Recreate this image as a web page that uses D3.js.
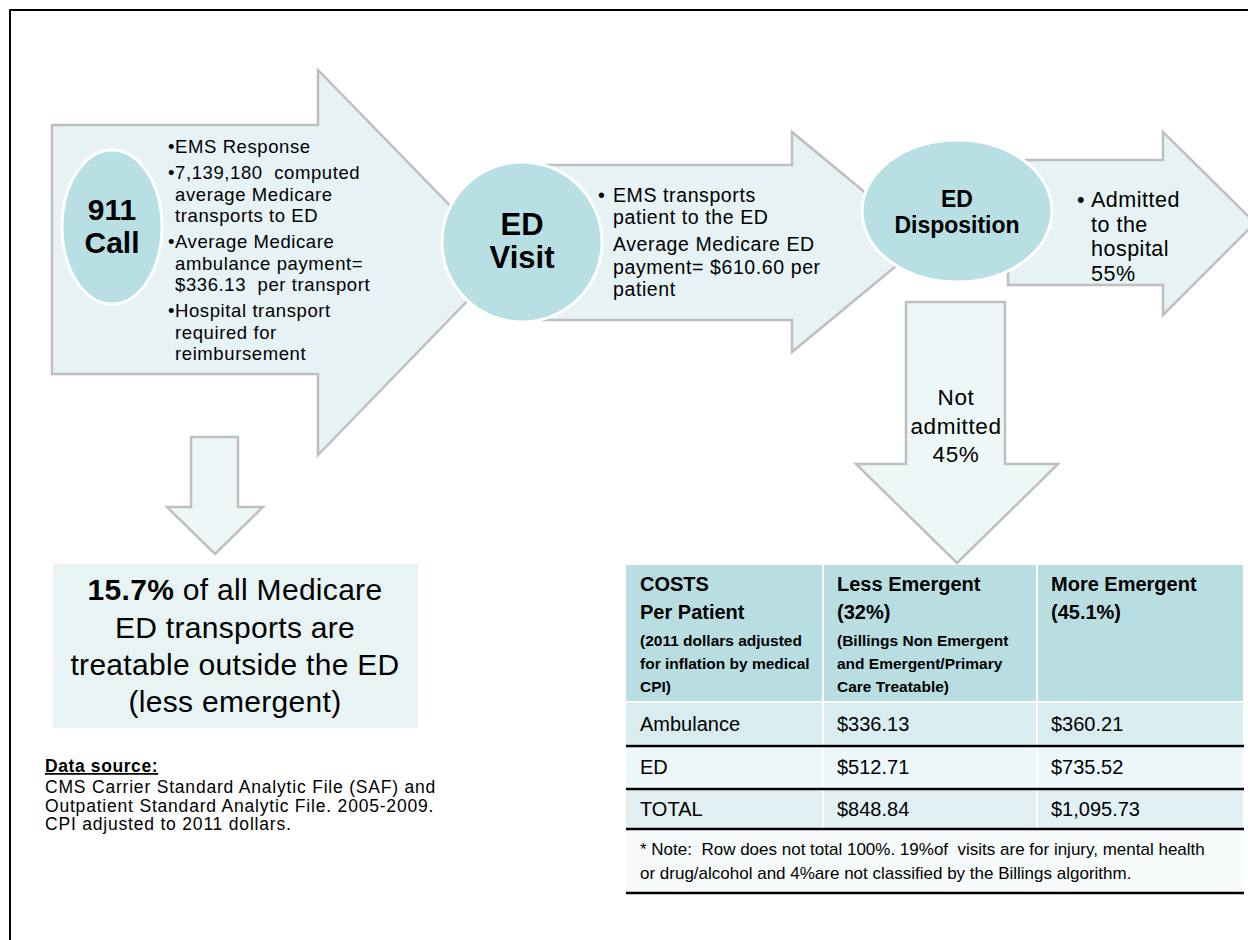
<!DOCTYPE html>
<html lang="en">
<head>
<meta charset="UTF-8">
<title>Medicare ED transport flow</title>
<script src="https://d3js.org/d3.v7.min.js"></script>
<style>
  body{margin:0;background:#fff;}
  svg text{font-family:"Liberation Sans",Arial,sans-serif;fill:#000;white-space:pre;}
  .narrow{font-family:"Liberation Sans Narrow","Arial Narrow","Liberation Sans",sans-serif !important;}
  .arrow{fill:#e6f2f4;stroke:#bfbfbf;stroke-width:2.5;}
  .arrow.down{fill:#eef7f7;}
  .node{fill:#b8dfe3;stroke:#fff;stroke-width:3;}
</style>
</head>
<body>
<svg id="chart" width="1248" height="940"></svg>
<script>
// ---- data ----
const nodeLabels = [["911","Call"],["ED","Visit"],["ED","Disposition"]];
const callBullets = [
  ["EMS Response"],
  ["7,139,180  computed","average Medicare","transports to ED"],
  ["Average Medicare","ambulance payment=","$336.13  per transport"],
  ["Hospital transport","required for","reimbursement"]
];
const visitBullets = [["EMS transports","patient to the ED"]];
const visitPlain = ["Average Medicare ED","payment= $610.60 per","patient"];
const admittedText = ["Admitted","to the","hospital","55%"];
const notAdmittedText = ["Not","admitted","45%"];
const summaryBold = "15.7%";
const summaryLines = [" of all Medicare","ED transports are","treatable outside the ED","(less emergent)"];
const sourceTitle = "Data source:";
const sourceLines = ["CMS Carrier Standard Analytic File (SAF) and","Outpatient Standard Analytic File. 2005-2009.","CPI adjusted to 2011 dollars."];

const headTitles = [["COSTS","Per Patient"],["Less Emergent","(32%)"],["More Emergent","(45.1%)"]];
const headNotes = [["(2011 dollars adjusted","for inflation by medical","CPI)"],["(Billings Non Emergent","and Emergent/Primary","Care Treatable)"],[]];
const rowLabels = ["Ambulance","ED","TOTAL"];
const lessEmergent = [336.13,512.71,848.84];
const moreEmergent = [360.21,735.52,1095.73];
const noteLines = ["* Note:  Row does not total 100%. 19%of  visits are for injury, mental health","or drug/alcohol and 4%are not classified by the Billings algorithm."];

// ---- setup ----
const svg = d3.select("#chart");
svg.append("rect").attr("x",10).attr("y",10).attr("width",1400).attr("height",1000)
  .attr("fill","none").attr("stroke","#000").attr("stroke-width",2);

const line = d3.line();
function arrow(pts, cls){
  svg.append("path").attr("class","arrow "+(cls||"")).attr("d",line(pts)+"Z");
}

// right-pointing arrows
arrow([[52,125],[318,125],[318,70],[505,262],[318,455],[318,374],[52,374]]);
arrow([[530,165],[792,165],[792,132],[925,242],[792,352],[792,320],[530,320]]);
arrow([[1008,160],[1163,160],[1163,132],[1255,223],[1163,315],[1163,285],[1008,285]]);
// down arrows
arrow([[191,437],[238,437],[238,507],[263,507],[215,554],[167,507],[191,507]],"down");
arrow([[906,302],[1005,302],[1005,464],[1058,464],[957,563],[856,464],[906,464]],"down");

// nodes
const nodePos = [{cx:112,cy:227,rx:50,ry:77,fs:30,base:[220,253]},
                 {cx:522,cy:242,rx:80,ry:80,fs:31,base:[235,268]},
                 {cx:957,cy:211,rx:95,ry:71,fs:23,base:[207,233]}];
const nodes = svg.selectAll(".nodeg").data(nodeLabels).enter().append("g");
nodes.append("ellipse").attr("class","node")
  .attr("cx",(d,i)=>nodePos[i].cx).attr("cy",(d,i)=>nodePos[i].cy)
  .attr("rx",(d,i)=>nodePos[i].rx).attr("ry",(d,i)=>nodePos[i].ry);
nodes.each(function(d,i){
  d3.select(this).selectAll("text").data(d).enter().append("text")
    .attr("x",nodePos[i].cx).attr("y",(t,j)=>nodePos[i].base[j])
    .attr("text-anchor","middle").attr("font-weight","bold")
    .attr("font-size",nodePos[i].fs).text(t=>t);
});

// bullet blocks
function bullets(groups, x, bx, y0, step, gap, fs, ls){
  let y = y0;
  groups.forEach(g=>{
    svg.append("text").attr("x",bx).attr("y",y).attr("font-size",fs).text("\u2022");
    g.forEach(t=>{
      svg.append("text").attr("x",x).attr("y",y).attr("font-size",fs)
        .attr("letter-spacing",ls).attr("fill","#111").text(t);
      y += step;
    });
    y += gap;
  });
  return y;
}
bullets(callBullets,175,168,153,21.5,4.5,18.5,0.6);
bullets(visitBullets,613,598,202,22,5,19.5,0.6);
visitPlain.forEach((t,i)=>svg.append("text").attr("x",613).attr("y",251+i*22.5)
  .attr("font-size",19.5).attr("letter-spacing",0.6).text(t));
bullets([admittedText],1091,1077,207,24.5,0,21.5,0.5);

svg.selectAll(".notadm").data(notAdmittedText).enter().append("text")
  .attr("x",956).attr("y",(d,i)=>405+i*28.5).attr("text-anchor","middle")
  .attr("font-size",22.5).attr("letter-spacing",0.6).text(d=>d);

// summary box
svg.append("rect").attr("x",53).attr("y",564).attr("width",365).attr("height",164).attr("fill","#e8f4f4");
const sum = svg.append("g").attr("font-size",30).attr("letter-spacing",0.3);
const first = sum.append("text").attr("x",235).attr("y",600).attr("text-anchor","middle");
first.append("tspan").attr("font-weight","bold").text(summaryBold);
first.append("tspan").text(summaryLines[0]);
summaryLines.slice(1).forEach((t,i)=>sum.append("text").attr("x",235).attr("y",638+i*37)
  .attr("text-anchor","middle").text(t));

// data source
svg.append("text").attr("x",45).attr("y",772).attr("font-size",17.5).attr("font-weight","bold")
  .attr("letter-spacing",0.6).attr("text-decoration","underline").text(sourceTitle);
sourceLines.forEach((t,i)=>svg.append("text").attr("x",45).attr("y",793+i*18.7)
  .attr("font-size",17.5).attr("letter-spacing",0.8).text(t));

// ---- table ----
const colX = d3.scaleOrdinal().domain([0,1,2]).range([626,823,1037]);
const colW = d3.scaleOrdinal().domain([0,1,2]).range([197,214,207]);
const rowY = d3.scaleBand().domain(rowLabels).range([703,829]).paddingInner(0.03);
const fmt = d3.format("$,.2f");
const rowFill = ["#d9edf0","#eef7f9","#e2f0f3"];
const tbl = svg.append("g");

// header cells
tbl.selectAll(".hc").data(headTitles).enter().append("rect")
  .attr("x",(d,i)=>colX(i)+(i?1:0)).attr("y",565).attr("width",(d,i)=>colW(i)-(i?1:0)-1)
  .attr("height",136).attr("fill","#b8dee2");
// body cells
rowLabels.forEach((r,ri)=>{
  tbl.selectAll(".bc"+ri).data([0,1,2]).enter().append("rect")
    .attr("x",i=>colX(i)+(i?1:0)).attr("y",rowY(r)).attr("width",i=>colW(i)-(i?1:0)-1)
    .attr("height",rowY.bandwidth()).attr("fill",rowFill[ri]);
});
tbl.append("rect").attr("x",626).attr("y",830).attr("width",618).attr("height",63).attr("fill","#f8fbfc");

// header text
headTitles.forEach((h,i)=>{
  h.forEach((t,j)=>tbl.append("text").attr("class","narrow").attr("x",colX(i)+14)
    .attr("y",591+j*28).attr("font-size",20).attr("font-weight","bold").attr("fill","#111").text(t));
  headNotes[i].forEach((t,j)=>tbl.append("text").attr("class","narrow").attr("x",colX(i)+14)
    .attr("y",646+j*23).attr("font-size",15.5).attr("font-weight","bold").attr("fill","#111").text(t));
});
// body text
const cells = rowLabels.map((r,i)=>[r,fmt(lessEmergent[i]),fmt(moreEmergent[i])]);
cells.forEach((row,ri)=>{
  row.forEach((t,ci)=>tbl.append("text").attr("class","narrow").attr("x",colX(ci)+14)
    .attr("y",rowY(rowLabels[ri])+rowY.bandwidth()/2+7.5).attr("font-size",20).attr("fill","#111").text(t));
});
noteLines.forEach((t,i)=>tbl.append("text").attr("class","narrow").attr("x",640)
  .attr("y",855+i*24).attr("font-size",17).attr("fill","#111").text(t));

// black rules
const rules = [746,789,829,893];
tbl.selectAll(".rule").data(rules).enter().append("line")
  .attr("x1",626).attr("x2",1244).attr("y1",d=>d).attr("y2",d=>d)
  .attr("stroke","#000").attr("stroke-width",2.5);
</script>
</body>
</html>
